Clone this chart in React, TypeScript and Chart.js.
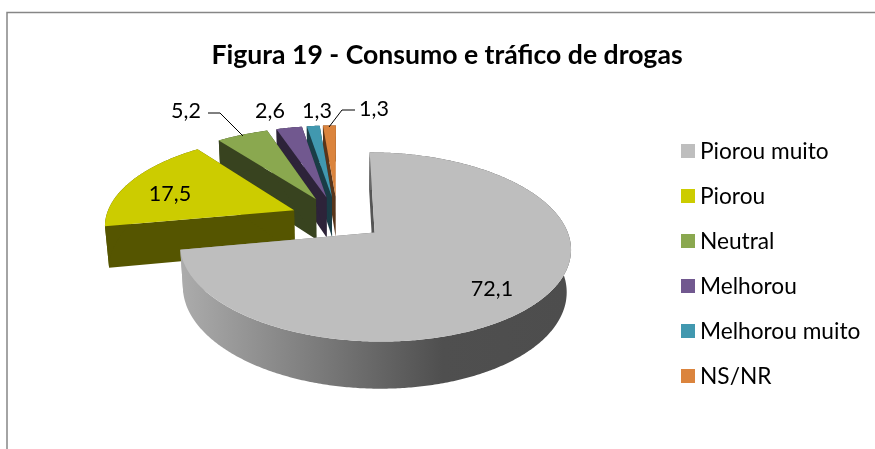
import React, { useEffect, useRef } from "react";
import { Chart, registerables } from "chart.js";

Chart.register(...registerables);

const TITLE = "Figura 19 - Consumo e tráfico de drogas";
const categories = ["Piorou muito", "Piorou", "Neutral", "Melhorou", "Melhorou muito", "NS/NR"];
const values = [72.1, 17.5, 5.2, 2.6, 1.3, 1.3];
const topColors = ["#BEBEBE", "#CCCC00", "#8AA84F", "#71588F", "#4198AF", "#DB843D"];
const wallColors = ["#6E6E6E", "#555500", "#38431F", "#2D2339", "#1A3D46", "#58351A"];

const FONT = "Lato, Carlito, sans-serif";
const fmt = (v: number) => v.toFixed(1).replace(".", ",");

// label centre positions, in the same order as the categories
const labelX = [492, 170, 186, 270, 317, 374];
const labelY = [289, 194, 111, 111, 111, 109];
const leaders: ([number, number][] | null)[] = [
  null,
  null,
  [[208, 113], [220, 113], [243, 136]],
  null,
  null,
  [[355, 110], [342, 110], [329, 127]],
];

// projection of the pie plane
const PROJ = { x0: 337.5, y0: 218, a: 188.5, b: 88, k: 0.15, depth: 42, m: 0.018, explode: 0.25 };

function project(u: number, v: number, z: number): [number, number] {
  const w = 1 - PROJ.k * v + PROJ.m * z;
  return [PROJ.x0 + (PROJ.a * u) / w, PROJ.y0 + (PROJ.b * v + PROJ.depth * z) / w];
}

function sliceGeom(start: number, end: number) {
  const mid = (start + end) / 2;
  const ox = Math.cos(mid) * PROJ.explode;
  const oy = Math.sin(mid) * PROJ.explode;
  const n = Math.max(4, Math.ceil((end - start) / 0.01));
  const rim: [number, number][] = [];
  for (let i = 0; i <= n; i++) {
    const t = start + ((end - start) * i) / n;
    rim.push([ox + Math.cos(t), oy + Math.sin(t)]);
  }
  return { apex: [ox, oy] as [number, number], rim };
}

function fillPoly(ctx: CanvasRenderingContext2D, pts: [number, number][], fill: string | CanvasGradient) {
  ctx.beginPath();
  pts.forEach((p, i) => (i ? ctx.lineTo(p[0], p[1]) : ctx.moveTo(p[0], p[1])));
  ctx.closePath();
  ctx.fillStyle = fill;
  ctx.fill();
}

const pie3d = {
  id: "pie3d",
  beforeDraw(chart: any) {
    const { ctx } = chart;
    ctx.save();
    ctx.fillStyle = "#FFFFFF";
    ctx.fillRect(0, 0, chart.width, chart.height);
    ctx.strokeStyle = "#868686";
    ctx.lineWidth = 1.5;
    ctx.beginPath();
    ctx.moveTo(7, chart.height + 5);
    ctx.lineTo(7, 12.5);
    ctx.lineTo(chart.width + 5, 12.5);
    ctx.stroke();
    ctx.restore();
  },
  beforeDatasetDraw(chart: any) {
    const { ctx } = chart;
    const arcs = chart.getDatasetMeta(0).data;
    ctx.save();
    // painter's order: the small back slices first, the large front slice last
    for (let i = arcs.length - 1; i >= 0; i--) {
      const { startAngle, endAngle } = arcs[i];
      const g = sliceGeom(startAngle, endAngle);
      const top = g.rim.map((p) => project(p[0], p[1], 0));
      const bottom = g.rim.map((p) => project(p[0], p[1], 1));
      const apexT = project(g.apex[0], g.apex[1], 0);
      const apexB = project(g.apex[0], g.apex[1], 1);
      let wall: string | CanvasGradient = wallColors[i];
      if (i === 0) {
        const gr = ctx.createLinearGradient(180, 0, 566, 0);
        gr.addColorStop(0, "#ACACAC");
        gr.addColorStop(0.68, "#4F4F4F");
        gr.addColorStop(1, "#4D4D4D");
        wall = gr;
      }
      fillPoly(ctx, [apexT, top[0], bottom[0], apexB], i === 0 ? "#555555" : wall);
      fillPoly(ctx, [apexT, top[top.length - 1], bottom[bottom.length - 1], apexB], wall);
      fillPoly(ctx, [...top, ...bottom.slice().reverse()], wall);
      fillPoly(ctx, [apexT, ...top], topColors[i]);
    }
    ctx.restore();
    return false;
  },
  afterDraw(chart: any) {
    const { ctx } = chart;
    const data: number[] = chart.data.datasets[0].data;
    ctx.save();
    ctx.fillStyle = "#000000";
    ctx.font = `21.5px ${FONT}`;
    ctx.textAlign = "center";
    ctx.textBaseline = "middle";
    data.forEach((v, i) => ctx.fillText(fmt(v), labelX[i], labelY[i]));
    ctx.strokeStyle = "#000000";
    ctx.lineWidth = 1;
    leaders.forEach((l) => {
      if (!l) return;
      ctx.beginPath();
      l.forEach((p, i) => (i ? ctx.lineTo(p[0], p[1]) : ctx.moveTo(p[0], p[1])));
      ctx.stroke();
    });
    // legend
    ctx.textAlign = "left";
    ctx.font = `22.7px ${FONT}`;
    (chart.data.labels as string[]).forEach((name, i) => {
      const y = 151 + i * 45;
      ctx.fillStyle = topColors[i];
      ctx.fillRect(681, y - 7, 14, 14);
      ctx.fillStyle = "#000000";
      ctx.fillText(name, 700, y + 1);
    });
    ctx.restore();
  },
};

export default function App() {
  const ref = useRef<HTMLCanvasElement>(null);
  useEffect(() => {
    const chart = new Chart(ref.current!, {
      type: "pie",
      data: {
        labels: categories,
        datasets: [{ data: values, backgroundColor: topColors, borderWidth: 0 }],
      },
      options: {
        animation: false,
        responsive: false,
        layout: { padding: { top: 39, left: 19 } },
        plugins: {
          legend: { display: false },
          tooltip: { enabled: false },
          title: {
            display: true,
            text: TITLE,
            color: "#000000",
            font: { family: FONT, size: 26.6, weight: "bold" },
            padding: { top: 0, bottom: 10 },
          },
        },
      },
      plugins: [pie3d],
    } as any);
    return () => chart.destroy();
  }, []);
  return (
    <div style={{ position: "fixed", left: 0, top: 0, width: 875, height: 449, overflow: "hidden", background: "#fff" }}>
      <canvas ref={ref} width={875} height={449} style={{ display: "block" }} />
    </div>
  );
}
